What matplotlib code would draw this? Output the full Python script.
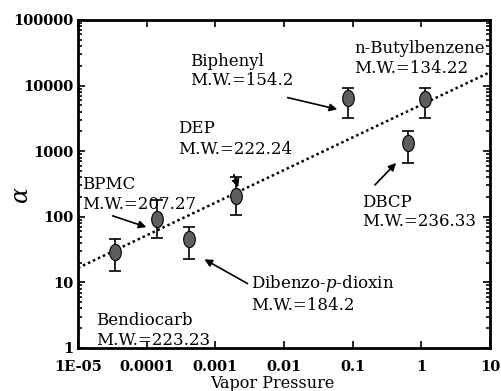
import numpy as np
import matplotlib
matplotlib.use('Agg')
import matplotlib.pyplot as plt
from matplotlib.ticker import FixedLocator, LogLocator, NullFormatter

plt.rcParams['font.family'] = ['DejaVu Serif']
plt.rcParams['mathtext.fontset'] = 'dejavuserif'

# data
names = ['Bendiocarb', 'BPMC', 'Dibenzo-p-dioxin', 'DEP', 'Biphenyl', 'DBCP', 'n-Butylbenzene']
vapor = [3.5e-5, 1.4e-4, 4.1e-4, 2.0e-3, 0.085, 0.63, 1.12]
alpha = [29, 93, 46, 208, 6500, 1330, 6300]
err_lo = [15, 48, 23, 107, 3200, 660, 3200]
err_hi = [46, 180, 70, 400, 9100, 2000, 9200]

fit_x = [1e-5, 10]
fit_y = [16.6, 16000]

xticks = [1e-5, 1e-4, 1e-3, 1e-2, 1e-1, 1, 10]
xticklabels = ['1E-05', '0.0001', '0.001', '0.01', '0.1', '1', '10']
yticks = [1, 10, 100, 1000, 10000, 100000]
yticklabels = ['1', '10', '100', '1000', '10000', '100000']

fig = plt.figure(figsize=(5.01, 3.91), dpi=100)
ax = fig.add_axes([0.1557, 0.110, 0.8223, 0.839])

ax.plot(fit_x, fit_y, linestyle=(0, (1, 1.2)), color='black', lw=1.8, zorder=1)

vapor = np.array(vapor)
alpha = np.array(alpha)
yerr = np.vstack([alpha - np.array(err_lo), np.array(err_hi) - alpha])
t = np.linspace(0, 2 * np.pi, 60)
ellipse = np.column_stack([0.72 * np.cos(t), np.sin(t)])
ax.errorbar(vapor, alpha, yerr=yerr, fmt='none', ecolor='black', elinewidth=1.2,
            capsize=4, capthick=1.2, zorder=2)
ax.scatter(vapor, alpha, marker=ellipse, s=135, facecolor='#5e5e5e',
           edgecolor='black', linewidths=0.8, zorder=3)

ax.set_xscale('log')
ax.set_yscale('log')
ax.set_xlim(1e-5, 10)
ax.set_ylim(1, 100000)

ax.xaxis.set_major_locator(FixedLocator(xticks))
ax.set_xticklabels(xticklabels)
ax.xaxis.set_minor_locator(FixedLocator([]))
ax.yaxis.set_major_locator(FixedLocator(yticks))
ax.set_yticklabels(yticklabels)
ax.yaxis.set_minor_locator(LogLocator(base=10, subs=np.arange(2, 10), numticks=20))
ax.yaxis.set_minor_formatter(NullFormatter())

ax.tick_params(which='both', direction='in', top=True, right=True,
               labelsize=10.5, width=1.2)
ax.tick_params(which='major', length=5)
ax.tick_params(which='minor', length=3)
ax.tick_params(axis='x', pad=9)
for lbl in ax.get_xticklabels() + ax.get_yticklabels():
    lbl.set_fontweight('bold')
for s in ax.spines.values():
    s.set_linewidth(2)

# axis titles placed by pixel, as in the scan
fig.text(272 / 501, 1 - 384 / 391, 'Vapor Pressure', fontsize=11.5,
         ha='center', va='center')
fig.text(21 / 501, 1 - 195 / 391, r'$\alpha$', fontsize=17, rotation=90,
         ha='center', va='center')

tkw = dict(fontsize=12, ha='left', va='center')
akw = dict(arrowstyle='-|>', color='black', lw=1.2, mutation_scale=11)

# labels and arrows (positions in axes fraction)
def fx(px):
    return (px - 78) / 412.0

def fy(py):
    return (348 - py) / 328.0

ax.text(fx(96), fy(321), 'Bendiocarb', transform=ax.transAxes, **tkw)
ax.text(fx(96), fy(341), 'M.W.=223.23', transform=ax.transAxes, **tkw)

ax.text(fx(82), fy(185), 'BPMC', transform=ax.transAxes, **tkw)
ax.text(fx(82), fy(205), 'M.W.=207.27', transform=ax.transAxes, **tkw)
ax.annotate('', xy=(fx(149), fy(228)), xytext=(fx(110), fy(215)),
            xycoords='axes fraction', arrowprops=akw)

ax.text(fx(251), fy(284), 'Dibenzo-$\\mathit{p}$-dioxin', transform=ax.transAxes, **tkw)
ax.text(fx(251), fy(306), 'M.W.=184.2', transform=ax.transAxes, **tkw)
ax.annotate('', xy=(fx(202), fy(258)), xytext=(fx(250), fy(285)),
            xycoords='axes fraction', arrowprops=akw)

ax.text(fx(178), fy(129), 'DEP', transform=ax.transAxes, **tkw)
ax.text(fx(178), fy(150), 'M.W.=222.24', transform=ax.transAxes, **tkw)
ax.annotate('', xy=(fx(239), fy(190)), xytext=(fx(233), fy(172)),
            xycoords='axes fraction', arrowprops=akw)

ax.text(fx(190), fy(62), 'Biphenyl', transform=ax.transAxes, **tkw)
ax.text(fx(190), fy(81), 'M.W.=154.2', transform=ax.transAxes, **tkw)
ax.annotate('', xy=(fx(340), fy(110)), xytext=(fx(285), fy(97)),
            xycoords='axes fraction', arrowprops=akw)

ax.text(fx(354), fy(49), 'n-Butylbenzene', transform=ax.transAxes, **tkw)
ax.text(fx(354), fy(69), 'M.W.=134.22', transform=ax.transAxes, **tkw)

ax.text(fx(362), fy(203), 'DBCP', transform=ax.transAxes, **tkw)
ax.text(fx(362), fy(222), 'M.W.=236.33', transform=ax.transAxes, **tkw)
ax.annotate('', xy=(fx(398), fy(161)), xytext=(fx(373), fy(187)),
            xycoords='axes fraction', arrowprops=akw)

fig.savefig('out.png', dpi=100)
